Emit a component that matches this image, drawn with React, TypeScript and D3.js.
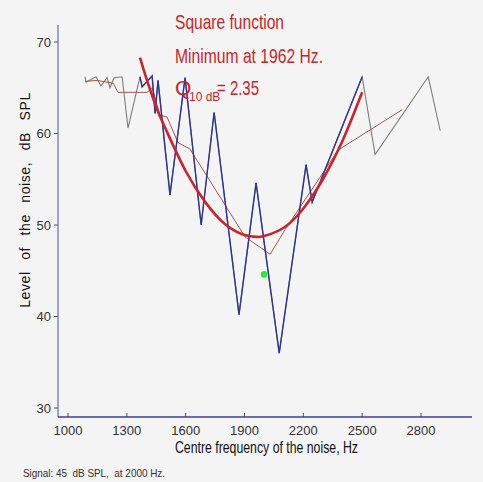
import React from "react";
import * as d3 from "d3";

// ---- data ----
const grayLeftFreq = [1087, 1092, 1143, 1168, 1199, 1214, 1235, 1276, 1306];
const grayLeftLevel = [66.2, 65.6, 66.2, 65.2, 66.1, 65.0, 66.1, 66.2, 60.6];

const blueFreq = [1367, 1378, 1429, 1444, 1459, 1520, 1597, 1679, 1745, 1872, 1959, 2077, 2214, 2245, 2500];
const blueLevel = [66.2, 65.1, 66.3, 62.2, 65.8, 53.3, 66.1, 50.0, 62.3, 40.2, 54.6, 36.0, 56.6, 52.5, 66.2];

const grayRightFreq = [2566, 2837, 2898];
const grayRightLevel = [57.7, 66.2, 60.3];

const smoothFreq = [1087, 1148, 1230, 1255, 1403, 1429, 1469, 1505, 1561, 1622, 1903, 2031, 2107, 2378, 2704];
const smoothLevel = [65.7, 65.8, 65.5, 64.5, 64.5, 65.0, 62.0, 61.8, 59.0, 58.3, 48.7, 46.8, 49.5, 58.2, 62.6];

const fitFreq = [1367, 1400, 1450, 1500, 1600, 1700, 1800, 1900, 1962, 2000, 2100, 2200, 2300, 2400, 2500];
const fitLevel = [68.3, 66.0, 62.9, 60.4, 55.9, 52.5, 50.1, 48.9, 48.7, 48.8, 49.7, 51.8, 55.0, 59.2, 64.5];

const signalFreq = [2000];
const signalLevel = [44.6];

const xTicks = [1000, 1300, 1600, 1900, 2200, 2500, 2800];
const yTicks = [30, 40, 50, 60, 70];

const NARROW = "'Liberation Sans Narrow', 'Arial Narrow', 'Liberation Sans', sans-serif";
const SANS = "'Liberation Sans', Arial, sans-serif";

export default function App() {
  const W = 483, H = 482;
  const x = d3.scaleLinear().domain([1000, 2800]).range([68, 421]);
  const y = d3.scaleLinear().domain([30, 70]).range([408, 42]);

  const zip = (f: number[], v: number[]) => f.map((d, i) => [d, v[i]] as [number, number]);
  const line = d3.line<[number, number]>().x(d => x(d[0])).y(d => y(d[1]));
  const curve = d3.line<[number, number]>().x(d => x(d[0])).y(d => y(d[1])).curve(d3.curveNatural);

  const gray = [...zip(grayLeftFreq, grayLeftLevel), ...zip(blueFreq, blueLevel), ...zip(grayRightFreq, grayRightLevel)];
  const blue = zip(blueFreq, blueLevel);
  const smooth = zip(smoothFreq, smoothLevel);
  const fit = zip(fitFreq, fitLevel);

  const axisX0 = 58, axisY0 = 417;
  const red = "#cc2428";

  return (
    <svg width={W} height={H} style={{ position: "absolute", left: 0, top: 0, background: "#f4f4f4" }}>
      <rect x={0} y={0} width={W} height={H} fill="#f4f4f4" />
      {/* axes */}
      <line x1={axisX0} y1={25} x2={axisX0} y2={axisY0} stroke="#7278b6" strokeWidth={1.3} />
      <line x1={axisX0} y1={axisY0} x2={472} y2={axisY0} stroke="#3a409a" strokeWidth={1.6} />
      {yTicks.map(t => (
        <g key={"y" + t}>
          <line x1={axisX0 - 4} x2={axisX0} y1={y(t)} y2={y(t)} stroke="#555" strokeWidth={1} />
          <text x={51} y={y(t) + 4.5} textAnchor="end" fontFamily={NARROW} fontSize={13} fill="#333">{t}</text>
        </g>
      ))}
      {xTicks.map(t => (
        <g key={"x" + t}>
          <line x1={x(t)} x2={x(t)} y1={axisY0 - 4} y2={axisY0} stroke="#555" strokeWidth={1} />
          <text x={x(t)} y={435} textAnchor="middle" fontFamily={NARROW} fontSize={13} fill="#333">{t}</text>
        </g>
      ))}

      {/* series */}
      <path d={line(gray) || ""} fill="none" stroke="#7c7c7c" strokeWidth={1.1} />
      <path d={line(smooth) || ""} fill="none" stroke="#a8554c" strokeWidth={1} />
      <path d={line(blue) || ""} fill="none" stroke="#2e3398" strokeWidth={1.4} />
      <path d={curve(fit) || ""} fill="none" stroke={red} strokeWidth={2.6} />
      {signalFreq.map((f, i) => (
        <circle key={"s" + i} cx={x(f)} cy={y(signalLevel[i])} r={3.3} fill="#22ee33" />
      ))}

      {/* annotation */}
      <g fontFamily={NARROW} fill={red}>
        <text x={175} y={29} fontSize={21} textLength={109} lengthAdjust="spacingAndGlyphs">Square function</text>
        <text x={175} y={63} fontSize={21} textLength={148} lengthAdjust="spacingAndGlyphs">Minimum at 1962 Hz.</text>
        <text x={175} y={95} fontSize={21}>Q</text>
        <text x={189} y={101} fontSize={12}>10 dB</text>
        <text x={217} y={95} fontSize={21} textLength={42} lengthAdjust="spacingAndGlyphs">= 2.35</text>
      </g>

      {/* axis labels */}
      <text x={175} y={453} fontFamily={NARROW} fontSize={17} fill="#111" textLength={183} lengthAdjust="spacingAndGlyphs">Centre frequency of the noise, Hz</text>
      <text transform="translate(30,200) rotate(-90)" textAnchor="middle" fontFamily={SANS} fontSize={14} fill="#111"
        letterSpacing={0.6} wordSpacing={7} style={{ whiteSpace: "pre" }}>Level of the noise, dB SPL</text>
      <text x={23} y={477} fontFamily={NARROW} fontSize={11.5} fill="#333" textLength={142} lengthAdjust="spacingAndGlyphs" style={{ whiteSpace: "pre" }}>Signal: 45  dB SPL,  at 2000 Hz.</text>
    </svg>
  );
}
